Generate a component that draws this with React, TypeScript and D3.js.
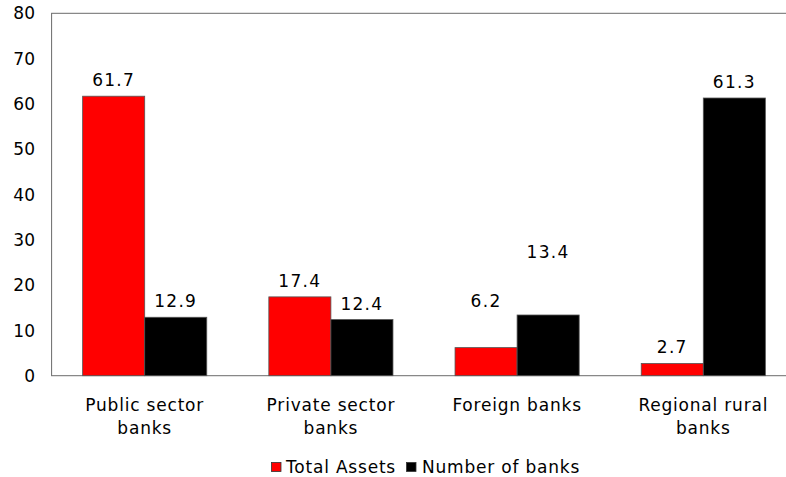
import React from "react";
import * as d3 from "d3";

const categories = [["Public sector", "banks"], ["Private sector", "banks"], ["Foreign banks"], ["Regional rural", "banks"]];
const totalAssets = [61.7, 17.4, 6.2, 2.7];
const numberOfBanks = [12.9, 12.4, 13.4, 61.3];
// where a data label sits (in value units) when it was moved off its bar in the original
const totalAssetsLabelAt: (number | null)[] = [null, null, 12.85, null];
const numberOfBanksLabelAt: (number | null)[] = [null, null, 23.7, null];
const yTicks = [0, 10, 20, 30, 40, 50, 60, 70, 80];
const seriesNames = ["Total Assets", "Number of banks"];
const seriesColors = ["#ff0000", "#000000"];

const W = 786;
const H = 477;
const left = 51.6;
const right = 796.4;
const top = 13.3;
const bottom = 375.7;
const FONT = "'DejaVu Sans', Verdana, sans-serif";

export default function App() {
  const keys = categories.map((c) => c.join(" "));
  const x = d3.scaleBand<string>().domain(keys).range([left, right]).padding(0);
  const y = d3.scaleLinear().domain([0, 80]).range([bottom, top]);
  const bw = x.bandwidth();
  const barW = bw / 3;
  const series = [totalAssets, numberOfBanks];
  const labelAt = [totalAssetsLabelAt, numberOfBanksLabelAt];

  return (
    <svg
      width={W}
      height={H}
      style={{ position: "absolute", left: 0, top: 0, background: "#fff" }}
      fontFamily={FONT}
    >
      {/* frame */}
      <rect x={left} y={top} width={right - left} height={bottom - top} fill="none" stroke="#6b6b6b" strokeWidth={1} />
      {/* y tick labels */}
      {yTicks.map((t) => (
        <text key={t} x={35} y={y(t)} dy="0.36em" textAnchor="end" fontSize={17} fill="#000">
          {t}
        </text>
      ))}
      {/* bars */}
      {series.map((vals, si) =>
        vals.map((v, i) => {
          const bx = (x(keys[i]) as number) + barW / 2 + si * barW;
          return (
            <rect
              key={`b${si}-${i}`}
              x={bx}
              y={y(v)}
              width={barW}
              height={y(0) - y(v)}
              fill={seriesColors[si]}
              stroke="#555"
              strokeWidth={0.8}
            />
          );
        })
      )}
      {/* data labels */}
      {series.map((vals, si) =>
        vals.map((v, i) => {
          const cx = (x(keys[i]) as number) + barW / 2 + si * barW + barW / 2;
          const at = labelAt[si][i] ?? v;
          return (
            <text
              key={`l${si}-${i}`}
              x={cx}
              y={y(at) - 10}
              textAnchor="middle"
              fontSize={17}
              letterSpacing={1.3}
              fill="#000"
            >
              {v.toFixed(1)}
            </text>
          );
        })
      )}
      {/* category labels */}
      {categories.map((lines, i) => {
        const cx = (x(keys[i]) as number) + bw / 2;
        return (
          <text key={`c${i}`} x={cx} y={410.5} textAnchor="middle" fontSize={17} letterSpacing={0.8} fill="#000">
            {lines.map((ln, j) => (
              <tspan key={j} x={cx} dy={j === 0 ? 0 : 23}>
                {ln}
              </tspan>
            ))}
          </text>
        );
      })}
      {/* legend */}
      <g>
        <rect x={271.5} y={462.5} width={9.5} height={9} fill={seriesColors[0]} stroke="#333" strokeWidth={0.8} />
        <text x={286} y={473} fontSize={17} letterSpacing={0.8} fill="#000">{seriesNames[0]}</text>
        <rect x={406.5} y={462.5} width={9.5} height={9} fill={seriesColors[1]} stroke="#333" strokeWidth={0.8} />
        <text x={422} y={473} fontSize={17} letterSpacing={0.8} fill="#000">{seriesNames[1]}</text>
      </g>
    </svg>
  );
}
